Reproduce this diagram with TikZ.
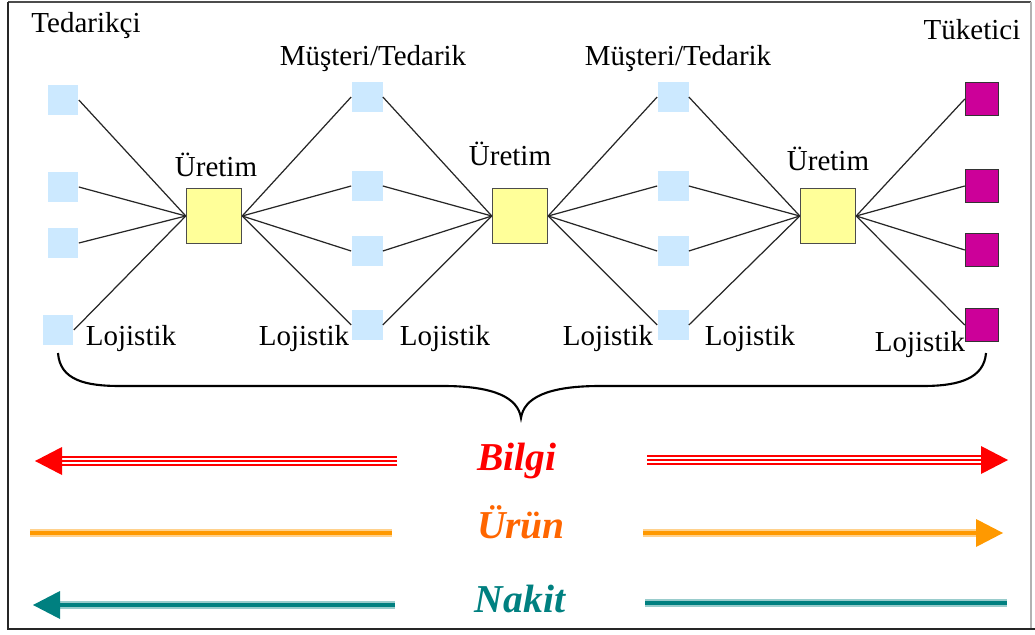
\documentclass[tikz,border=0pt]{standalone}
\usepackage{fontspec}
\setmainfont{Liberation Serif}
\usepackage{tikz}
\usetikzlibrary{positioning,calc}

\definecolor{supplyblue}{HTML}{CCE9FF}
\definecolor{prodyellow}{HTML}{FFFF99}
\definecolor{custmagenta}{HTML}{CC0099}
\definecolor{flowred}{HTML}{FF0000}
\definecolor{floworange}{HTML}{FF9900}
\definecolor{textorange}{HTML}{FF6600}
\definecolor{flowteal}{HTML}{008080}

\begin{document}
\begin{tikzpicture}[x=0.02cm,y=-0.02cm]

	\tikzset{partystyle/.style={draw=none,fill=supplyblue,minimum size=0.62cm,inner sep=0pt}}
	\tikzset{endstyle/.style={draw=black!80,fill=custmagenta,minimum size=0.66cm,inner sep=0pt,line width=0.8pt}}
	\tikzset{prodstyle/.style={draw=black!70,fill=prodyellow,minimum size=1.1cm,inner sep=0pt,line width=0.8pt}}
	\tikzset{textstyle/.style={font=\fontsize{16.5}{18}\selectfont,inner sep=0pt,anchor=base}}
	\tikzset{flowtext/.style={font=\fontsize{22.5}{24}\selectfont\bfseries\itshape,inner sep=0pt,anchor=base}}
	\tikzset{linkedge/.style={-,line width=0.7pt,black!85}}
	\tikzset{bilgiline/.style={draw=flowred,line width=5.6pt,
			postaction={draw=white,line width=3.4pt},
			postaction={draw=flowred,line width=1.1pt}}}
	\tikzset{urunline/.style={draw=floworange!45,line width=5.1pt,
			postaction={draw=floworange,line width=2.2pt}}}
	\tikzset{nakitline/.style={draw=flowteal!40,line width=5.1pt,
			postaction={draw=flowteal,line width=2.6pt}}}
	
	\newcommand\flowHead[3] % {colour}{tip}{direction: 1 right, -1 left}
	{
		\fill[#1] (#2) -- ++(-27*#3,-14) -- ++(0,28) -- cycle;
	}
	
	\useasboundingbox (0,0) rectangle (1035,635);
	
	% frame
	\draw[black!70,line width=0.9pt] (8,2) -- (1031,2);
	\draw[black!30,line width=0.6pt] (1031,2) -- (1031,629);
	\draw[black!85,line width=1.7pt] (8,2) -- (8,629) -- (1035,629);
	
	% suppliers, customers/suppliers, consumers
	\foreach \i/\y in {1/100,2/187,3/243}
	{
		\node[partystyle] (s0\i) at (63,\y) {};
	}
	\node[partystyle] (s04) at (58,330) {};
	\foreach \i/\y in {1/97,2/186,3/251,4/325}
	{
		\node[partystyle] (s1\i) at (367,\y) {};
		\node[partystyle] (s2\i) at (673,\y) {};
	}
	\foreach \i/\y in {1/99,2/186,3/250,4/325}
	{
		\node[endstyle] (c\i) at (982,\y) {};
	}
	
	\node[prodstyle] (p1) at (214,216) {};
	\node[prodstyle] (p2) at (520,216) {};
	\node[prodstyle] (p3) at (828,216) {};
	
	\foreach \i in {1,...,4}
	{
		\draw[linkedge]
		(s0\i.east) to (p1.west)
		(p1.east) to (s1\i.west)
		(s1\i.east) to (p2.west)
		(p2.east) to (s2\i.west)
		(s2\i.east) to (p3.west)
		(p3.east) to (c\i.west);
	}
	
	% texts
	\node[textstyle] (ted) at (86,33) {Tedarikçi};
	\node[textstyle] (mt1) at (373,66) {Müşteri/Tedarik};
	\node[textstyle] (mt2) at (678,66) {Müşteri/Tedarik};
	\node[textstyle] (tuk) at (972,40) {Tüketici};
	\node[textstyle] (ur1) at (216,176) {Üretim};
	\node[textstyle] (ur2) at (510,166) {Üretim};
	\node[textstyle] (ur3) at (828,171) {Üretim};
	\foreach \n/\x/\y in {1/131/345,2/304/345,3/445/345,4/608/345,5/750/345,6/920/351}
	{
		\node[textstyle] (loj\n) at (\x,\y) {Lojistik};
	}
	
	% brace
	\draw[line width=1.2pt] (58,353) .. controls (60,380) and (85,386) .. (120,386)
	-- (443,386) .. controls (495,386) and (518,398) .. (521,418)
	.. controls (524,398) and (547,386) .. (600,386)
	-- (923,386) .. controls (960,386) and (984,378) .. (986,353);
	
	% flows
	\node[flowtext,text=flowred] (bilgi) at (517,470) {Bilgi};
	\node[flowtext,text=textorange] (urun) at (521,538) {Ürün};
	\node[flowtext,text=flowteal] (nakit) at (520,612) {Nakit};
	
	\coordinate (bL1) at (397,461);
	\coordinate (bL2) at (35,461);
	\coordinate (bR1) at (647,460);
	\coordinate (bR2) at (1008,460);
	\coordinate (uL1) at (30,533);
	\coordinate (uL2) at (392,533);
	\coordinate (uR1) at (643,533);
	\coordinate (uR2) at (1003,533);
	\coordinate (nL1) at (395,605);
	\coordinate (nL2) at (33,605);
	\coordinate (nR1) at (645,603);
	\coordinate (nR2) at (1007,603);
	
	\draw[bilgiline] (bL1) -- ($(bL2)+(25,0)$);
	\draw[bilgiline] (bR1) -- ($(bR2)-(25,0)$);
	\draw[urunline] (uL1) -- (uL2);
	\draw[urunline] (uR1) -- ($(uR2)-(25,0)$);
	\draw[nakitline] (nL1) -- ($(nL2)+(25,0)$);
	\draw[nakitline] (nR1) -- (nR2);
	
	\flowHead{flowred}{bL2}{-1}
	\flowHead{flowred}{bR2}{1}
	\flowHead{floworange}{uR2}{1}
	\flowHead{flowteal}{nL2}{-1}
\end{tikzpicture}
\end{document}
